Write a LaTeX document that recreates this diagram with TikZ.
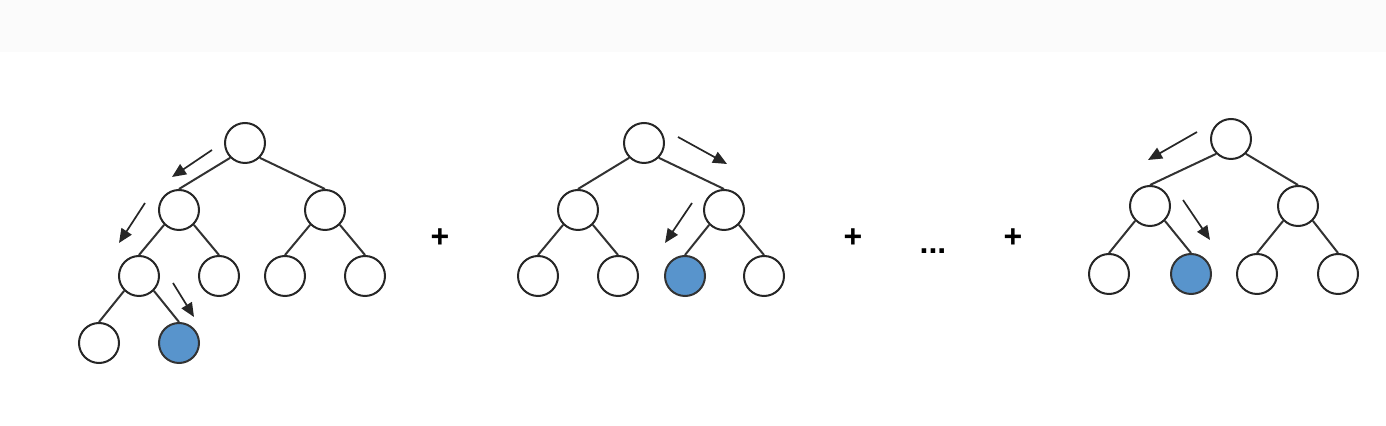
\documentclass[tikz,border=0pt]{standalone}
\usepackage{fontspec}
\setmainfont{Liberation Sans}
\usetikzlibrary{arrows.meta}
\definecolor{leafblue}{RGB}{88,148,204}
\definecolor{edgegray}{RGB}{50,50,50}
\begin{document}
\begin{tikzpicture}[x=0.5pt,y=-0.5pt]
    \tikzstyle{vertex}=[circle,draw=black!85,fill=white,line width=1pt,minimum size=20pt,inner sep=0pt]
    \tikzstyle{target}=[vertex,fill=leafblue,draw=black!80]
    \tikzstyle{edge}=[draw=edgegray,line width=1pt]
    \tikzstyle{walk}=[draw=black!85,line width=0.85pt,-{Triangle[length=7pt,width=6pt]}]
    \tikzstyle{op}=[font=\bfseries\fontsize{16}{16}\selectfont,inner sep=0pt]
    \useasboundingbox (0,0) rectangle (1386,426);
    \fill[black!1.5] (0,0) rectangle (1386,52);
    \node[vertex] (a0) at (245,143) {};
    \node[vertex] (a1) at (179,210) {};
    \node[vertex] (a2) at (325,210) {};
    \node[vertex] (a3) at (139,276) {};
    \node[vertex] (a4) at (219,276) {};
    \node[vertex] (a5) at (285,276) {};
    \node[vertex] (a6) at (365,276) {};
    \node[vertex] (a7) at (99,343)  {};
    \node[target] (a8) at (179,343) {};
    \draw[edge] (a0.south west) -- (a1.north) (a0.south east) -- (a2.north)
                (a1.south west) -- (a3.north) (a1.south east) -- (a4.north)
                (a2.south west) -- (a5.north) (a2.south east) -- (a6.north)
                (a3.south west) -- (a7.north) (a3.south east) -- (a8.north);
    \coordinate (p1) at (212,150); \coordinate (q1) at (172,177);
    \coordinate (p2) at (145,203); \coordinate (q2) at (119,243);
    \coordinate (p3) at (173,283); \coordinate (q3) at (194,317);
    \draw[walk] (p1) -- (q1);
    \draw[walk] (p2) -- (q2);
    \draw[walk] (p3) -- (q3);
    \node[op] (plusa) at (440,238) {+};
    \node[vertex] (b0) at (644,143) {};
    \node[vertex] (b1) at (578,210) {};
    \node[vertex] (b2) at (724,210) {};
    \node[vertex] (b3) at (538,276) {};
    \node[vertex] (b4) at (618,276) {};
    \node[target] (b5) at (685,276) {};
    \node[vertex] (b6) at (764,276) {};
    \draw[edge] (b0.south west) -- (b1.north) (b0.south east) -- (b2.north)
                (b1.south west) -- (b3.north) (b1.south east) -- (b4.north)
                (b2.south west) -- (b5.north) (b2.south east) -- (b6.north);
    \coordinate (p4) at (678,137); \coordinate (q4) at (727,164);
    \coordinate (p5) at (692,203); \coordinate (q5) at (665,243);
    \draw[walk] (p4) -- (q4);
    \draw[walk] (p5) -- (q5);
    \node[op] (plusb) at (853,238) {+};
    \node[op] (dots)  at (933,251) {...};
    \node[op] (plusc) at (1013,238) {+};
    \node[vertex] (c0) at (1231,139) {};
    \node[vertex] (c1) at (1150,206) {};
    \node[vertex] (c2) at (1298,206) {};
    \node[vertex] (c3) at (1109,274) {};
    \node[target] (c4) at (1191,274) {};
    \node[vertex] (c5) at (1257,274) {};
    \node[vertex] (c6) at (1338,274) {};
    \draw[edge] (c0.south west) -- (c1.north) (c0.south east) -- (c2.north)
                (c1.south west) -- (c3.north) (c1.south east) -- (c4.north)
                (c2.south west) -- (c5.north) (c2.south east) -- (c6.north);
    \coordinate (p6) at (1197,132); \coordinate (q6) at (1148,160);
    \coordinate (p7) at (1183,200); \coordinate (q7) at (1210,240);
    \draw[walk] (p6) -- (q6);
    \draw[walk] (p7) -- (q7);
\end{tikzpicture}
\end{document}
